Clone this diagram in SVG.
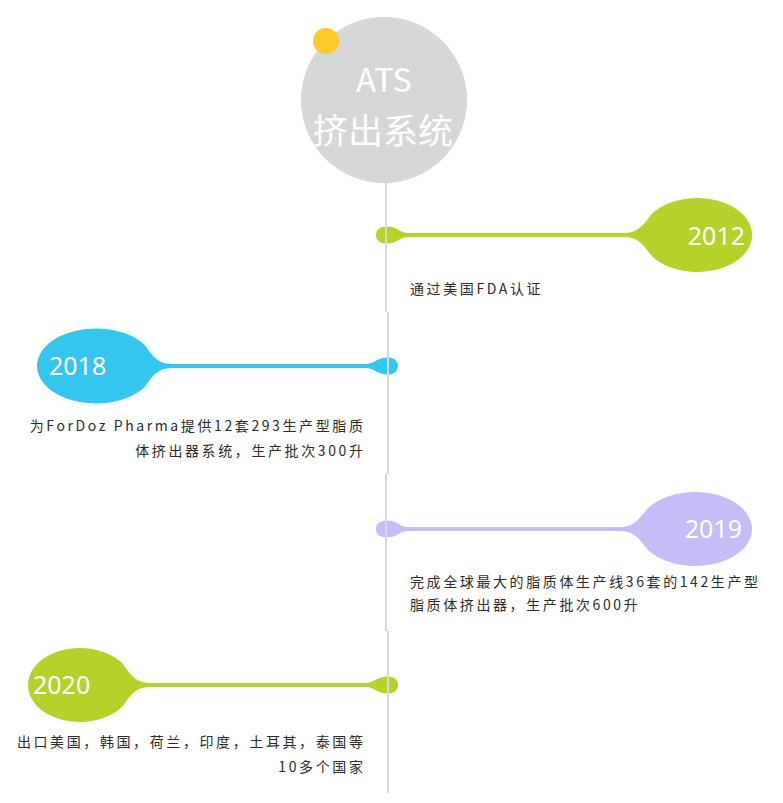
<svg xmlns="http://www.w3.org/2000/svg" width="783" height="803" viewBox="0 0 783 803">
<style>
.year{font-family:"Noto Sans","Noto Sans CJK SC",sans-serif;font-size:25px;fill:#ffffff}
.desc{font-family:"Noto Sans CJK SC","Noto Sans",sans-serif;font-size:14px;fill:#2b2b2b;letter-spacing:2.6px}
.green{fill:#b5d22a}
.blue{fill:#35c6f0}
.lav{fill:#c4bdf8}
.axis{stroke:#d8d8d8;stroke-width:2;fill:none}
</style>
<rect width="783" height="803" fill="#ffffff"/>
<g id="title">
<circle cx="384" cy="100" r="83" fill="#d7d7d7"/>
<circle cx="326" cy="41" r="13" fill="#fcca2b"/>
<text x="384" y="92" text-anchor="middle" font-family="Noto Sans CJK SC, Noto Sans, sans-serif" font-size="33" fill="#ffffff">ATS</text>
<text x="383" y="144" text-anchor="middle" font-family="Noto Sans CJK SC, sans-serif" font-size="35" fill="#ffffff">挤出系统</text>
</g>
<g id="n2012">
<path class="green" d="M408,233 L624,233 C640,233 645,222 652,213.8 A55 37 0 1 1 652,256.2 C645,248 640,237 624,237 L408,237 C400,237 397,243.5 387,243.5 C380,243.5 376,240 376,235 C376,230 380,226.5 387,226.5 C397,226.5 400,233 408,233 Z"/>
<text class="year" x="745" y="245" text-anchor="end">2012</text>
<text class="desc" x="410" y="293.5">通过美国FDA认证</text>
</g>
<g id="n2018">
<path class="blue" d="M366,364 L172,364 C156,364 151,353 144.3,344.5 A59 37.5 0 1 0 144.3,387.5 C151,379 156,368 172,368 L366,368 C374,368 377,374.5 388,374.5 C394,374.5 398,371 398,366 C398,361 394,357.5 388,357.5 C377,357.5 374,364 366,364 Z"/>
<text class="year" x="49" y="375">2018</text>
<text class="desc" x="365.5" y="430.5" text-anchor="end">为ForDoz Pharma提供12套293生产型脂质</text>
<text class="desc" x="365.5" y="455.5" text-anchor="end">体挤出器系统，生产批次300升</text>
</g>
<g id="n2019">
<path class="lav" d="M408,527 L620,527 C636,527 641,516 648.3,507.8 A57 37 0 1 1 648.3,550.2 C641,542 636,531 620,531 L408,531 C400,531 397,537.5 387,537.5 C380,537.5 376,534 376,529 C376,524 380,520.5 387,520.5 C397,520.5 400,527 408,527 Z"/>
<text class="year" x="742" y="538" text-anchor="end">2019</text>
<text class="desc" x="410" y="586.5">完成全球最大的脂质体生产线36套的142生产型</text>
<text class="desc" x="410" y="610">脂质体挤出器，生产批次600升</text>
</g>
<g id="n2020">
<path class="green" d="M366,683 L150,683 C134,683 129,672 122.6,663.8 A52 37 0 1 0 122.6,706.2 C129,698 134,687 150,687 L366,687 C374,687 377,693.5 388,693.5 C394,693.5 398,690 398,685 C398,680 394,676.5 388,676.5 C377,676.5 374,683 366,683 Z"/>
<text class="year" x="33" y="694">2020</text>
<text class="desc" x="365.5" y="746.5" text-anchor="end">出口美国，韩国，荷兰，印度，土耳其，泰国等</text>
<text class="desc" x="365.5" y="771.5" text-anchor="end">10多个国家</text>
</g>
<g id="connectors">
<line class="axis" x1="386" y1="182" x2="386" y2="312"/>
<line class="axis" x1="388" y1="312" x2="388" y2="474"/>
<line class="axis" x1="386" y1="474" x2="386" y2="631"/>
<line class="axis" x1="388" y1="631" x2="388" y2="793"/>
</g>
</svg>
